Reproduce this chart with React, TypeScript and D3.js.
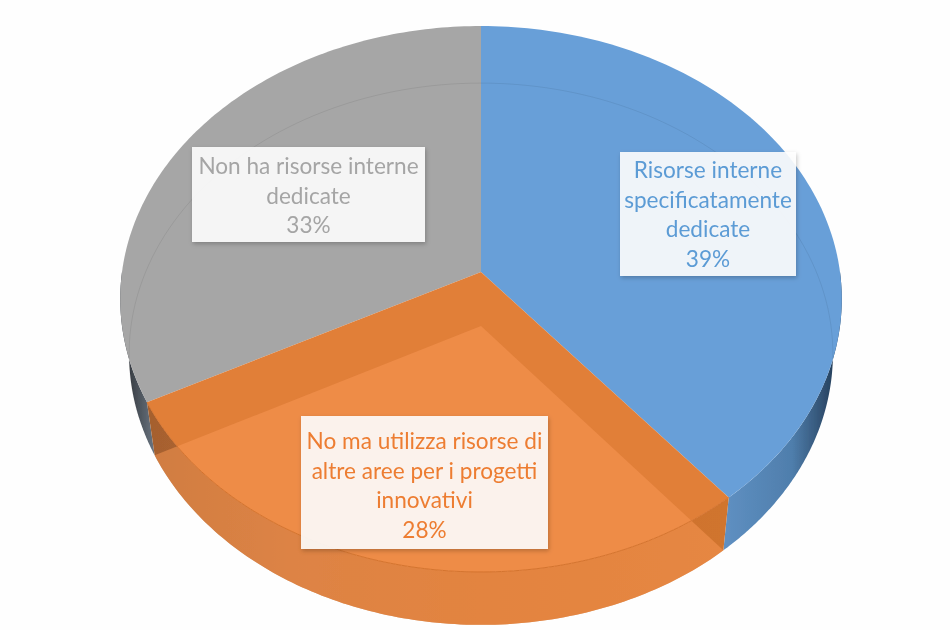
import React from "react";
import * as d3 from "d3";

// values: the slices, shown rounded in the labels
const categories = ["Risorse interne specificatamente dedicate", "No ma utilizza risorse di altre aree per i progetti innovativi", "Non ha risorse interne dedicate"];
const values = [39, 28.4, 32.6];
const labelLines = [
  ["Risorse interne", "specificatamente", "dedicate"],
  ["No ma utilizza risorse di", "altre aree per i progetti", "innovativi"],
  ["Non ha risorse interne", "dedicate"],
];
const sliceColors = ["#689FD8", "#E17F39", "#A6A6A6"];
const textColors = ["#5B9BD5", "#ED7D31", "#A5A5A5"];

const width = 950;
const height = 630;

// rim of the pie top and of its base, drawn with a bit of perspective
const topRim = { cx: 481, cy: 272, a: 270.3, b: -0.0989, r: 359 };
const baseRim = { cx: 481, cy: 326, a: 268, b: -0.1033, r: 350 };

// label boxes: left, top, width, height, first baseline
const labelBoxes = [
  { x: 620, y: 152, w: 176, h: 124, base: 178 },
  { x: 301, y: 416, w: 247, h: 133, base: 449 },
  { x: 192, y: 147, w: 233, h: 95, base: 174 },
];
const lineGap = 29.5;

type Rim = typeof topRim;

const project = (rim: Rim, angle: number): [number, number] => {
  const u = Math.sin(angle);
  const v = -Math.cos(angle);
  const d = 1 + rim.b * v;
  return [rim.cx + (rim.r * u) / d, rim.cy + (rim.a * v) / d];
};

const sample = (rim: Rim, from: number, to: number) =>
  d3.range(0, 121).map((i) => project(rim, from + ((to - from) * i) / 120));

const line = d3.line();
const closed = (pts: [number, number][]) => line(pts) + "Z";

const wedge = (rim: Rim, from: number, to: number) =>
  closed([[rim.cx, rim.cy], ...sample(rim, from, to)]);

const wall = (from: number, to: number) =>
  closed([...sample(topRim, from, to), ...sample(baseRim, from, to).reverse()]);

const arcs = d3.pie<number>().sort(null)(values);
const [blue, orange, gray] = arcs;
const deg = Math.PI / 180;

export default function App() {
  return (
    <svg
      width={width}
      height={height}
      style={{ position: "absolute", left: 0, top: 0, background: "#fefefe", fontFamily: "Lato" }}
    >
      <defs>
        <linearGradient id="blueSide" gradientUnits="userSpaceOnUse" x1="723" x2="838" y1="0" y2="0">
          <stop offset="0" stopColor="#5F90C2" />
          <stop offset="0.6" stopColor="#4F7EAC" />
          <stop offset="1" stopColor="#223A55" />
        </linearGradient>
        <linearGradient id="graySide" gradientUnits="userSpaceOnUse" x1="130" x2="165" y1="0" y2="0">
          <stop offset="0" stopColor="#3A3F46" />
          <stop offset="1" stopColor="#7F8C99" />
        </linearGradient>
        <linearGradient id="orangeSide" gradientUnits="userSpaceOnUse" x1="150" x2="725" y1="0" y2="0">
          <stop offset="0" stopColor="#A5602F" />
          <stop offset="0.25" stopColor="#BF6D33" />
          <stop offset="0.6" stopColor="#CB6E2B" />
          <stop offset="1" stopColor="#D0742F" />
        </linearGradient>
        <filter id="boxShadow" x="-10%" y="-10%" width="120%" height="120%">
          <feDropShadow dx="1" dy="2" stdDeviation="2" floodColor="#000" floodOpacity="0.25" />
        </filter>
        <filter id="soften" x="0" y="0" width="100%" height="100%">
          <feGaussianBlur stdDeviation="0.6" />
        </filter>
      </defs>

      <g filter="url(#soften)">
        <path d={wall(Math.PI / 2, blue.endAngle)} fill="url(#blueSide)" />
        <path d={wall(gray.startAngle, 1.5 * Math.PI)} fill="url(#graySide)" />
        <path d={wall(orange.startAngle, orange.endAngle)} fill="url(#orangeSide)" />

        <path d={wedge(topRim, blue.startAngle, blue.endAngle)} fill={sliceColors[0]} />
        <path d={wedge(topRim, gray.startAngle, gray.endAngle)} fill={sliceColors[2]} />
        <path d={wedge(topRim, orange.startAngle, orange.endAngle)} fill={sliceColors[1]} />
        <path d={wedge(baseRim, orange.startAngle, orange.endAngle)} fill="#FB9A55" fillOpacity={0.5} />

        <path d={line(sample(topRim, orange.startAngle, orange.endAngle))!} fill="none" stroke="#D4732D" strokeWidth={1} />
        <path
          d={line(sample(baseRim, gray.startAngle + 8 * deg, 2 * Math.PI + blue.endAngle - 42 * deg))!}
          fill="none"
          stroke="#000"
          strokeOpacity={0.07}
        />

        {categories.map((name, i) => {
          const box = labelBoxes[i];
          return (
            <g key={name}>
              <rect x={box.x} y={box.y} width={box.w} height={box.h} fill="#fff" fillOpacity={0.89} filter="url(#boxShadow)" />
              <text fill={textColors[i]} fontSize={22.6} textAnchor="middle">
                {[...labelLines[i], `${Math.round(values[i])}%`].map((t, j) => (
                  <tspan key={j} x={box.x + box.w / 2} y={box.base + j * lineGap}>
                    {t}
                  </tspan>
                ))}
              </text>
            </g>
          );
        })}
      </g>
    </svg>
  );
}
